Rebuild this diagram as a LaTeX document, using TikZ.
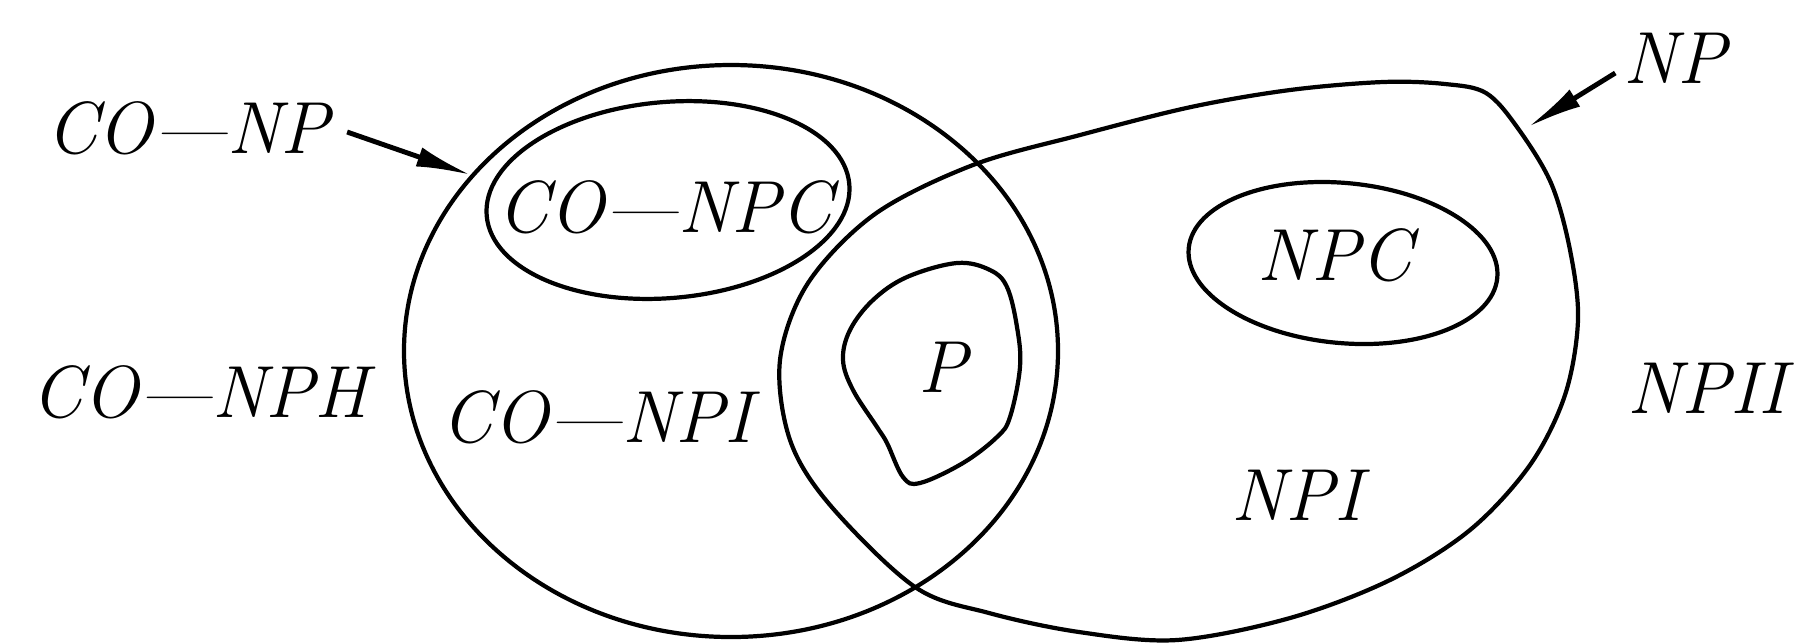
\documentclass[tikz,border=0pt]{standalone}
\usepackage{fontspec}
\usetikzlibrary{arrows.meta,positioning}
\begin{document}
\begin{tikzpicture}[x=0.1mm,y=-0.1mm,
  every node/.style={font=\fontsize{21}{24}\selectfont\itshape},
  region/.style={line width=1.2pt},
  pointer/.style={-{Latex[length=5.5mm,width=2mm]},line width=1.4pt}]
\useasboundingbox (0,0) rectangle (1805,642);
% CO-NP circle
\draw[region] (731,351) ellipse [x radius=327, y radius=286];
% NP region
\draw[region] plot[smooth cycle,tension=0.55] coordinates {
  (973,165) (1080,135) (1191,107) (1290,90) (1383,82) (1445,84) (1486,93)
  (1517,127) (1551,183) (1570,250) (1578,320) (1565,395) (1530,465)
  (1470,530) (1390,580) (1290,618) (1177,640) (1079,632) (989,613)
  (915,587) (830,505) (790,440) (780,360) (808,283) (875,214)};
% inner sets
\draw[region,rotate around={5:(668,200)}] (668,200) ellipse [x radius=182, y radius=98];
\draw[region,rotate around={-5.5:(1343,263)}] (1343,263) ellipse [x radius=155, y radius=80];
\draw[region] plot[smooth cycle,tension=0.6] coordinates {
  (957,263) (990,270) (1007,287) (1017,327) (1020,367) (1010,417) (997,437)
  (963,463) (920,483) (903,477) (887,443) (877,427) (853,390) (843,360)
  (850,330) (873,300) (907,277)};
% labels
\node (conp) at (188,128) {CO—NP};
\node (np) at (1675,58) {NP};
\node (conpc) at (665,207) {CO—NPC};
\node (conph) at (200,392) {CO—NPH};
\node (conpi) at (597,417) {CO—NPI};
\node (p) at (943,367) {P};
\node (npc) at (1335,255) {NPC};
\node (npii) at (1707,388) {NPII};
\node (npi) at (1297,495) {NPI};
% pointers to the boundaries
\coordinate (conp tip) at (471,175);
\coordinate (np tip) at (1528,127);
\draw[pointer] ([xshift=0.5mm,yshift=-0.4mm]conp.east) -- (conp tip);
\draw[pointer] ([xshift=0.4mm,yshift=-1.5mm]np.west) -- (np tip);
\end{tikzpicture}
\end{document}
